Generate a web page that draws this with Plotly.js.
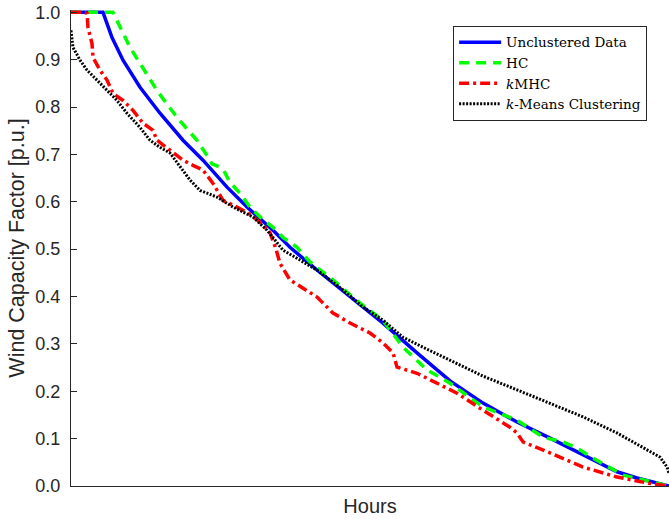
<!DOCTYPE html>
<html><head><meta charset="utf-8">
<script src="https://cdn.plot.ly/plotly-3.0.1.min.js"></script>
<style>html,body{margin:0;padding:0;background:#fff}#chart{width:669px;height:519px}</style>
</head><body><div id="chart"></div>
<script>
// x: share of hours (% of the year, sorted duration), y: wind capacity factor [p.u.]
const unclX = [0, 5.35, 6.86, 8.70, 11.54, 14.88, 18.73, 22.07, 26.09, 29.43, 33.78, 36.62, 41.14, 46.66, 52.17, 57.86, 63.38, 68.90, 74.58, 80.10, 85.62, 91.30, 94.65, 100];
const unclY = [1.0, 1.0, 0.947, 0.899, 0.842, 0.787, 0.730, 0.688, 0.631, 0.589, 0.540, 0.504, 0.456, 0.399, 0.344, 0.281, 0.222, 0.175, 0.135, 0.101, 0.065, 0.030, 0.017, 0.0];

const hcX = [0, 7.02, 9.87, 11.54, 14.38, 17.73, 19.40, 21.07, 22.74, 23.58, 24.92, 25.59, 26.59, 28.26, 29.93, 31.61, 33.78, 35.45, 37.79, 39.97, 43.81, 48.33, 52.17, 55.52, 59.53, 63.38, 68.90, 74.58, 78.93, 82.27, 84.62, 87.29, 92.31, 95.65, 100];
const hcY = [1.0, 1.0, 0.926, 0.892, 0.835, 0.778, 0.755, 0.730, 0.698, 0.680, 0.673, 0.665, 0.641, 0.618, 0.589, 0.568, 0.546, 0.525, 0.504, 0.473, 0.435, 0.386, 0.350, 0.293, 0.245, 0.217, 0.167, 0.139, 0.103, 0.093, 0.080, 0.059, 0.023, 0.013, 0.0];

const kmhcX = [0, 2.17, 2.68, 2.84, 3.51, 3.68, 4.85, 6.02, 7.02, 8.70, 10.37, 12.04, 13.71, 14.38, 16.56, 18.73, 20.40, 22.07, 23.75, 25.42, 27.09, 29.43, 31.61, 33.28, 34.28, 34.95, 36.62, 38.80, 41.14, 43.81, 46.66, 50.00, 52.17, 53.85, 54.52, 57.86, 61.20, 64.55, 68.90, 73.41, 74.58, 75.59, 80.10, 85.62, 91.30, 96.49, 100];
const kmhcY = [1.0, 1.0, 0.998, 0.968, 0.934, 0.905, 0.878, 0.857, 0.829, 0.814, 0.793, 0.766, 0.751, 0.730, 0.709, 0.688, 0.677, 0.667, 0.639, 0.603, 0.593, 0.578, 0.557, 0.535, 0.500, 0.470, 0.435, 0.418, 0.399, 0.365, 0.344, 0.323, 0.302, 0.281, 0.251, 0.238, 0.217, 0.196, 0.160, 0.124, 0.112, 0.093, 0.070, 0.040, 0.019, 0.006, 0.0];

const kmX = [0, 0.33, 1.51, 2.68, 4.35, 6.02, 7.69, 9.36, 11.54, 13.21, 14.88, 16.56, 18.73, 19.90, 21.57, 24.41, 27.09, 30.43, 32.78, 35.45, 38.29, 41.14, 45.48, 48.83, 52.17, 55.52, 58.86, 63.38, 67.89, 68.90, 74.58, 80.10, 85.62, 91.30, 95.65, 98.49, 99.67, 100];
const kmY = [0.962, 0.926, 0.899, 0.878, 0.857, 0.835, 0.814, 0.787, 0.757, 0.730, 0.715, 0.703, 0.667, 0.646, 0.624, 0.610, 0.589, 0.568, 0.540, 0.498, 0.477, 0.456, 0.414, 0.378, 0.350, 0.314, 0.293, 0.266, 0.238, 0.232, 0.203, 0.175, 0.146, 0.112, 0.082, 0.061, 0.040, 0.027];

const names = ['Unclustered Data', 'HC', '<i>k</i>MHC', '<i>k</i>-Means Clustering'];
const yTicks = [0, 0.1, 0.2, 0.3, 0.4, 0.5, 0.6, 0.7, 0.8, 0.9, 1.0];

const traces = [
  {x: unclX, y: unclY, name: names[0], mode: 'lines', line: {color: '#0000ff', width: 3.5}},
  {x: hcX, y: hcY, name: names[1], mode: 'lines', line: {color: '#00ff00', width: 3.5, dash: '10px,7px'}},
  {x: kmhcX, y: kmhcY, name: names[2], mode: 'lines', line: {color: '#ff0000', width: 3.5, dash: '10px,4px,3px,4px'}},
  {x: kmX, y: kmY, name: names[3], mode: 'lines', line: {color: '#000000', width: 3, dash: '2px,1.5px'}}
];

const axisColor = '#262626';
const sans = 'Liberation Sans, Arial, sans-serif';
const layout = {
  width: 669, height: 519,
  margin: {l: 71, r: 0, t: 10, b: 33},
  paper_bgcolor: '#fff', plot_bgcolor: '#fff',
  showlegend: true,
  xaxis: {
    range: [0, 100], showticklabels: false, ticks: '', showgrid: false, zeroline: false,
    showline: true, linecolor: axisColor, linewidth: 1,
    title: {text: 'Hours', font: {family: sans, size: 20, color: axisColor}, standoff: 12}
  },
  yaxis: {
    range: [0, 1.005], tickvals: yTicks, tickformat: '.1f', ticks: 'inside', ticklen: 6, tickcolor: axisColor,
    ticklabelstandoff: 6,
    showgrid: false, zeroline: false, showline: true, linecolor: axisColor, linewidth: 1,
    tickfont: {family: sans, size: 18, color: axisColor},
    title: {text: 'Wind Capacity Factor [p.u.]', font: {family: sans, size: 21.5, color: axisColor}, standoff: 4}
  },
  legend: {
    x: 0.639, y: 0.9665, xanchor: 'left', yanchor: 'top',
    bgcolor: '#fff', bordercolor: axisColor, borderwidth: 1,
    font: {family: 'DejaVu Serif, Liberation Serif, serif', size: 13.5, color: '#000'},
    itemwidth: 42, tracegroupgap: 0
  }
};

Plotly.newPlot('chart', traces, layout, {staticPlot: true, displayModeBar: false});
</script></body></html>
